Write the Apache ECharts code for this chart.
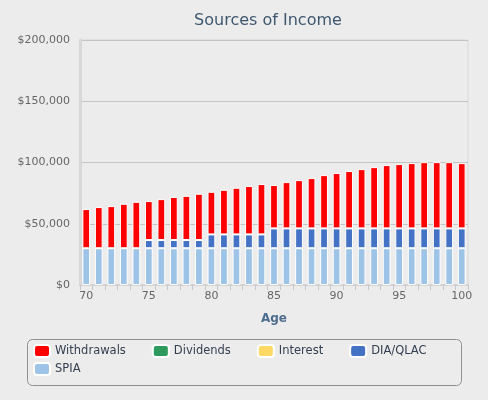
<!DOCTYPE html>
<html lang="en">
  <head>
    <meta charset="UTF-8" />
    <title>Sources of Income</title>
    <style>
      html, body { margin: 0; padding: 0; background: #ececec; }
      #chart { width: 488px; height: 400px; }
    </style>
  </head>
  <body>
    <div id="chart"></div>
    <script src="https://cdn.jsdelivr.net/npm/echarts@6/dist/echarts.min.js"></script>
    <script>
      const ages = [];
      for (let a = 70; a <= 100; a++) ages.push(String(a));

      const spia = [
        30000, 30000, 30000, 30000, 30000, 30000, 30000, 30000, 30000, 30000,
        30000, 30000, 30000, 30000, 30000, 30000, 30000, 30000, 30000, 30000,
        30000, 30000, 30000, 30000, 30000, 30000, 30000, 30000, 30000, 30000,
        30000
      ];
      const diaQlac = [
        0, 0, 0, 0, 0, 6700, 6700, 6700, 6700, 6700,
        11300, 11300, 11300, 11300, 11300, 16200, 16200, 16200, 16200, 16200,
        16200, 16200, 16200, 16200, 16200, 16200, 16200, 16200, 16200, 16200,
        16200
      ];
      const interest = ages.map(() => 0);
      const dividends = ages.map(() => 0);
      const withdrawals = [
        32000, 33600, 34400, 36300, 37900, 31800, 33400, 35200, 36100, 37800,
        34800, 36400, 38100, 39500, 41100, 35400, 37800, 39400, 41100, 43500,
        45200, 46800, 48400, 50000, 51700, 52500, 53300, 54100, 54100, 54100,
        53300
      ];

      const font = "DejaVu Sans";
      const myChart = echarts.init(document.querySelector("#chart"));

      const bar = (name, data, color) => ({
        name: name,
        type: "bar",
        stack: "income",
        data: data,
        barWidth: "62%",
        itemStyle: { color: color, borderColor: "#ffffff", borderWidth: 1 },
        emphasis: { disabled: true }
      });

      // shared legend look, the box round both rows is drawn as a graphic
      const legendBase = {
        left: 26,
        padding: [0, 7],
        itemWidth: 16,
        itemHeight: 12,
        itemGap: 26,
        icon: "roundRect",
        textStyle: { fontFamily: font, fontSize: 11.5, color: "#333f50" }
      };

      const option = {
        backgroundColor: "#ececec",
        animation: false,
        textStyle: { fontFamily: font },
        title: {
          text: "Sources of Income",
          left: 263,
          textAlign: "center",
          top: 8,
          textStyle: { fontFamily: font, fontSize: 16, fontWeight: "normal", color: "#3e576f" }
        },
        legend: [
          Object.assign({}, legendBase, {
            top: 344,
            data: ["Withdrawals", "Dividends", "Interest", "DIA/QLAC"]
          }),
          Object.assign({}, legendBase, {
            top: 362,
            data: ["SPIA"]
          })
        ],
        graphic: [
          {
            type: "rect",
            left: 25,
            top: 337,
            shape: { width: 434, height: 46, r: 5 },
            style: { fill: "none", stroke: "#909090", lineWidth: 1 },
            silent: true
          }
        ],
        grid: {
          left: 80,
          right: 20,
          top: 40,
          bottom: 115,
          show: true,
          borderColor: "#d8d8d8",
          borderWidth: 1,
          backgroundColor: "transparent"
        },
        xAxis: {
          type: "category",
          data: ages,
          name: "Age",
          nameLocation: "middle",
          nameGap: 28,
          nameTextStyle: { fontFamily: font, fontSize: 12, fontWeight: "bold", color: "#4d6d8f" },
          axisLine: { lineStyle: { color: "#d4d4d4", width: 2 } },
          axisTick: { show: true, interval: 0, length: 5, lineStyle: { color: "#c8c8c8" } },
          axisLabel: {
            interval: 4,
            fontFamily: font,
            fontSize: 11,
            color: "#666666",
            margin: 6
          }
        },
        yAxis: {
          type: "value",
          min: 0,
          max: 200000,
          interval: 50000,
          axisLine: { show: true, lineStyle: { color: "#d8d8d8", width: 3 } },
          axisTick: { show: false },
          splitLine: { lineStyle: { color: "#c4c4c4" } },
          axisLabel: {
            fontFamily: font,
            fontSize: 11,
            color: "#666666",
            margin: 10,
            formatter: (v) => "$" + v.toLocaleString("en-US")
          }
        },
        series: [
          bar("SPIA", spia, "#9dc3e6"),
          bar("DIA/QLAC", diaQlac, "#4472c4"),
          bar("Interest", interest, "#ffd966"),
          bar("Dividends", dividends, "#2e9a5e"),
          bar("Withdrawals", withdrawals, "#ff0000")
        ]
      };
      myChart.setOption(option);
    </script>
  </body>
</html>
